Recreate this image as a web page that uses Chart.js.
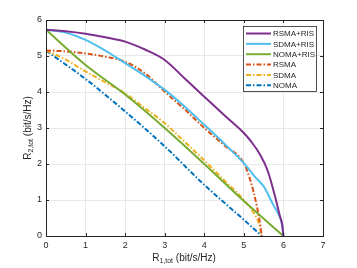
<!DOCTYPE html>
<html><head><meta charset="utf-8">
<script src="https://cdn.jsdelivr.net/npm/chart.js@4.4.1/dist/chart.umd.min.js"></script>
<style>html,body{margin:0;padding:0;background:#fff}#wrap{width:357px;height:268px}</style>
</head><body><div id="wrap"><canvas id="c" width="357" height="268"></canvas></div>
<script>
const seriesNames = ["RSMA+RIS","SDMA+RIS","NOMA+RIS","RSMA","SDMA","NOMA"];
const rsmaRisX = [0,0.5,1,1.5,2,2.5,3,3.5,4,4.5,5,5.2,5.4,5.6,5.8,5.9,5.97,6];
const rsmaRisY = [5.73,5.69,5.62,5.52,5.4,5.18,4.89,4.38,3.87,3.36,2.86,2.6,2.28,1.82,1.05,0.6,0.3,0];
const sdmaRisX = [0,0.5,1,1.5,2,2.5,3,3.5,4,4.5,5,5.3,5.5,5.75,5.9,5.97,6];
const sdmaRisY = [5.73,5.65,5.45,5.15,4.8,4.45,4.06,3.6,3.09,2.57,2.02,1.62,1.38,0.85,0.55,0.3,0];
const nomaRisX = [0,1,2,3,4,5,6];
const nomaRisY = [5.73,4.75,3.93,3.0,2.0,0.97,0];
const rsmaX = [0,0.5,1,1.5,2,2.5,3,3.5,4,4.5,5,5.16,5.33,5.42,5.45];
const rsmaY = [5.15,5.13,5.07,4.98,4.84,4.52,4.01,3.52,3.0,2.52,2.02,1.56,0.82,0.27,0];
const sdmaX = [0,0.5,1,1.5,2,2.5,3,3.5,4,4.5,5,5.25,5.38,5.45];
const sdmaY = [5.15,4.9,4.57,4.27,3.96,3.55,3.13,2.62,2.1,1.55,1.0,0.64,0.35,0];
const nomaX = [0,1,2,3,4,5,5.45];
const nomaY = [5.15,4.36,3.46,2.49,1.42,0.45,0];
const xTicks = [0,1,2,3,4,5,6,7];
const yTicks = [0,1,2,3,4,5,6];

const colors = ["#7E2F8E","#4DBEEE","#77AC30","#D95319","#EDB120","#0072BD"];
const dashes = [[],[],[],[5,2,1.5,2],[5,2,1.5,2],[5,2,1.5,2]];
const xs = [rsmaRisX,sdmaRisX,nomaRisX,rsmaX,sdmaX,nomaX];
const ys = [rsmaRisY,sdmaRisY,nomaRisY,rsmaY,sdmaY,nomaY];

const FONT = "'Liberation Sans', Arial, sans-serif";
const AX = "#262626";

const datasets = seriesNames.map((n,i)=>({
  label:n,
  data: xs[i].map((x,k)=>({x:x,y:ys[i][k]})),
  borderColor:colors[i], backgroundColor:colors[i],
  borderWidth:2, borderDash:dashes[i], pointRadius:0, showLine:true,
  cubicInterpolationMode:'monotone', fill:false
}));

const boxPlugin = {
  id:'box',
  afterDraw(chart){
    const ctx = chart.ctx, a = chart.chartArea;
    const sx = chart.scales.x, sy = chart.scales.y;
    ctx.save();
    ctx.strokeStyle = AX; ctx.lineWidth = 1; ctx.setLineDash([]);
    ctx.strokeRect(Math.round(a.left)+0.5, Math.round(a.top)+0.5, Math.round(a.right-a.left), Math.round(a.bottom-a.top));
    ctx.beginPath();
    xTicks.forEach(v=>{const p=Math.round(sx.getPixelForValue(v))+0.5;
      ctx.moveTo(p,a.bottom); ctx.lineTo(p,a.bottom-3); ctx.moveTo(p,a.top); ctx.lineTo(p,a.top+3);});
    yTicks.forEach(v=>{const p=Math.round(sy.getPixelForValue(v))+0.5;
      ctx.moveTo(a.left,p); ctx.lineTo(a.left+3,p); ctx.moveTo(a.right,p); ctx.lineTo(a.right-3,p);});
    ctx.stroke();
    ctx.fillStyle = AX;
    function drawSub(x,y,base,sub,rest){
      ctx.font = "10px "+FONT; const w1 = ctx.measureText(base).width;
      ctx.font = "7px "+FONT; const w2 = ctx.measureText(sub).width;
      ctx.font = "10px "+FONT; const w3 = ctx.measureText(rest).width;
      let s = x-(w1+w2+w3)/2;
      ctx.textBaseline='middle'; ctx.textAlign='left';
      ctx.font = "10px "+FONT; ctx.fillText(base,s,y);
      ctx.font = "7px "+FONT; ctx.fillText(sub,s+w1,y+3);
      ctx.font = "10px "+FONT; ctx.fillText(rest,s+w1+w2,y);
    }
    drawSub(184,258,"R","1,tot"," (bit/s/Hz)");
    ctx.save(); ctx.translate(28,128); ctx.rotate(-Math.PI/2);
    drawSub(0,0,"R","2,tot"," (bit/s/Hz)");
    ctx.restore();
    const lx=243, ly=26, lw=73, lh=65;
    ctx.fillStyle="#fff"; ctx.fillRect(lx,ly,lw,lh);
    ctx.strokeStyle=AX; ctx.lineWidth=0.8; ctx.strokeRect(lx+0.5,ly+0.5,lw,lh);
    ctx.font="8px "+FONT; ctx.textAlign='left'; ctx.textBaseline='middle';
    seriesNames.forEach((n,i)=>{
      const yy = 33.5 + i*10.35;
      ctx.strokeStyle=colors[i]; ctx.lineWidth=2; ctx.setLineDash(dashes[i]);
      ctx.beginPath(); ctx.moveTo(246,yy); ctx.lineTo(271,yy); ctx.stroke();
      ctx.setLineDash([]); ctx.fillStyle=AX; ctx.fillText(n,273,yy+0.5);
    });
    ctx.restore();
  }
};

new Chart(document.getElementById('c'),{
  type:'scatter',
  data:{datasets},
  plugins:[boxPlugin],
  options:{
    responsive:false, animation:false, devicePixelRatio:1,
    layout:{padding:{left:0,right:34,top:20,bottom:0}},
    plugins:{legend:{display:false},tooltip:{enabled:false}},
    scales:{
      x:{type:'linear',min:0,max:7,
        afterFit(s){s.height=32;},
        afterBuildTicks(s){s.ticks=xTicks.map(v=>({value:v}));},
        grid:{color:"#e8e8e8",drawTicks:false,lineWidth:1},
        border:{display:false},
        ticks:{color:AX,font:{family:FONT,size:9},padding:4,maxRotation:0}},
      y:{type:'linear',min:0,max:6,
        afterFit(s){s.width=46;},
        afterBuildTicks(s){s.ticks=yTicks.map(v=>({value:v}));},
        grid:{color:"#e8e8e8",drawTicks:false,lineWidth:1},
        border:{display:false},
        ticks:{color:AX,font:{family:FONT,size:9},padding:4}}
    }
  }
});
</script></body></html>
